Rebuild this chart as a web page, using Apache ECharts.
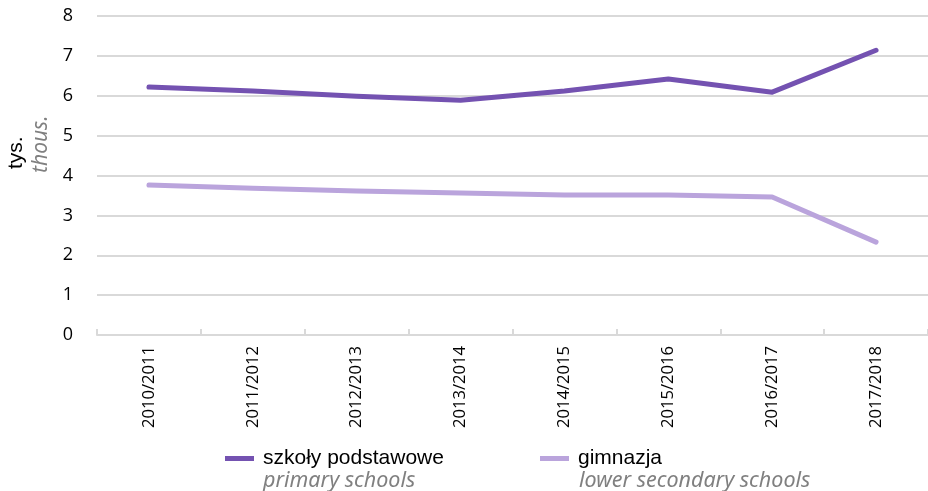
<!DOCTYPE html>
<html><head><meta charset="utf-8">
<script src="https://cdn.jsdelivr.net/npm/echarts@6/dist/echarts.min.js"></script>
<style>html,body{margin:0;padding:0;background:#fff}#c{width:928px;height:491px}</style>
</head><body><div id="c"></div>
<script>
var categories = ['2010/2011','2011/2012','2012/2013','2013/2014','2014/2015','2015/2016','2016/2017','2017/2018'];
var primaryValues = [6.22, 6.12, 5.99, 5.89, 6.12, 6.42, 6.09, 7.14];
var secondaryValues = [3.76, 3.68, 3.61, 3.56, 3.51, 3.51, 3.46, 2.33];
var seriesNames = ['szkoły podstawowe', 'gimnazja'];
var seriesNamesEn = ['primary schools', 'lower secondary schools'];
var yTicks = [0, 8, 1];

var chart = echarts.init(document.getElementById('c'), null, {renderer: 'canvas'});
var c1 = '#7452b1', c2 = '#baa4dc';
chart.setOption({
  animation: false,
  grid: {left: 97, top: 16, bottom: 156, right: -11, containLabel: false},
  xAxis: {
    type: 'category', data: categories, boundaryGap: true,
    axisLine: {show: true, lineStyle: {color: '#d9d9d9', width: 2}},
    axisTick: {show: true, inside: true, length: 6, alignWithLabel: false, lineStyle: {color: '#d9d9d9', width: 2}},
    axisLabel: {rotate: 90, fontFamily: 'Open Sans', fontSize: 16.6, color: '#000', margin: 11, interval: 0}
  },
  yAxis: {
    type: 'value', min: yTicks[0], max: yTicks[1], interval: yTicks[2],
    axisLine: {show: false}, axisTick: {show: false},
    splitLine: {lineStyle: {color: '#d9d9d9', width: 2}},
    axisLabel: {fontFamily: 'Open Sans', fontSize: 18, color: '#000', margin: 24}
  },
  legend: [
    {data: [seriesNames[0]], left: 225, top: 448, padding: 0, icon: 'rect', itemWidth: 29, itemHeight: 5,
     textStyle: {fontFamily: 'Liberation Sans', fontSize: 21, color: '#000', padding: [0, 0, 0, 4]}},
    {data: [seriesNames[1]], left: 540, top: 448, padding: 0, icon: 'rect', itemWidth: 29, itemHeight: 5,
     textStyle: {fontFamily: 'Liberation Sans', fontSize: 21, color: '#000', padding: [0, 0, 0, 4]}}
  ],
  graphic: [
    {type: 'text', x: 263, y: 481, style: {text: seriesNamesEn[0], font: 'italic 21.5px "Noto Sans"', fill: '#808080', verticalAlign: 'middle'}},
    {type: 'text', x: 579, y: 481, style: {text: seriesNamesEn[1], font: 'italic 21.5px "Noto Sans"', fill: '#808080', verticalAlign: 'middle'}},
    {type: 'text', x: 27, y: 169, rotation: Math.PI/2, style: {text: 'tys.', font: '21px "Liberation Sans"', fill: '#000', align: 'left', verticalAlign: 'bottom'}},
    {type: 'text', x: 31, y: 173, rotation: Math.PI/2, style: {text: 'thous.', font: 'italic 21px "Noto Sans"', fill: '#808080', align: 'left', verticalAlign: 'top'}}
  ],
  series: [
    {name: seriesNames[0], type: 'line', data: primaryValues, symbol: 'none', color: c1,
     lineStyle: {width: 5, color: c1, cap: 'round', join: 'round'}},
    {name: seriesNames[1], type: 'line', data: secondaryValues, symbol: 'none', color: c2,
     lineStyle: {width: 5, color: c2, cap: 'round', join: 'round'}}
  ]
});
</script></body></html>
